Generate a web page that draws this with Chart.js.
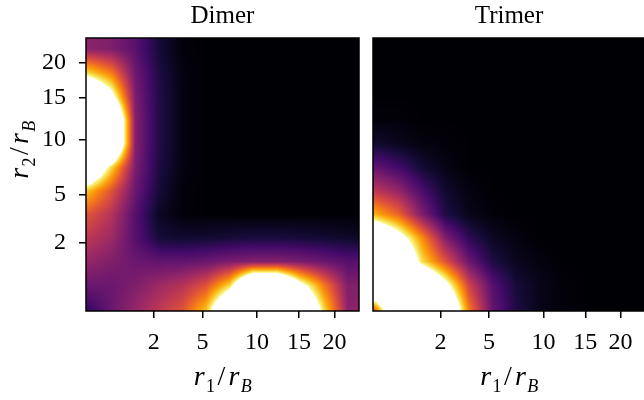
<!DOCTYPE html>
<html>
<head>
<meta charset="utf-8">
<script src="https://cdn.jsdelivr.net/npm/chart.js@4.4.1/dist/chart.umd.min.js"></script>
<style>
  html, body { margin: 0; padding: 0; background: #fff; width: 644px; height: 400px; overflow: hidden; }
  canvas { position: absolute; top: 0; }
  #dimer { left: 0; }
  #trimer { left: 366px; }
</style>
</head>
<body>
<canvas id="dimer" width="366" height="400"></canvas>
<canvas id="trimer" width="280" height="400"></canvas>
<script>
// axes are linear in sqrt(r/rB)
const rMin = 0.07;
const rMax = 23.9;
const tickValues = [2, 5, 10, 15, 20];
const tickLabels = ['2', '5', '10', '15', '20'];
const titles = ['Dimer', 'Trimer'];

// grid nodes (r/rB) for both r1 and r2
const nodes = [0.09, 0.49, 1.21, 2.25, 3.61, 5.29, 7.29, 9.61, 12.25, 15.21, 18.49, 22.09];

// colour values, rows from top (largest r2) to bottom (smallest r2), columns r1 left to right
const dimer = [
  [0.38, 0.35, 0.26, 0.10, 0.01, 0, 0, 0, 0, 0, 0, 0],
  [0.90, 0.70, 0.31, 0.12, 0.02, 0, 0, 0, 0, 0, 0, 0],
  [1.60, 1.10, 0.34, 0.13, 0.02, 0, 0, 0, 0, 0, 0, 0],
  [1.80, 1.70, 0.36, 0.13, 0.02, 0, 0, 0, 0, 0, 0, 0],
  [1.80, 1.70, 0.36, 0.13, 0.02, 0, 0, 0, 0, 0, 0, 0],
  [1.50, 0.90, 0.34, 0.12, 0.02, 0, 0, 0, 0, 0, 0, 0],
  [0.85, 0.60, 0.30, 0.10, 0.01, 0, 0, 0, 0, 0, 0, 0],
  [0.60, 0.48, 0.25, 0.06, 0.01, 0, 0, 0, 0, 0, 0, 0],
  [0.50, 0.42, 0.25, 0.10, 0.08, 0.09, 0.10, 0.11, 0.11, 0.10, 0.09, 0.07],
  [0.40, 0.35, 0.30, 0.28, 0.28, 0.30, 0.34, 0.36, 0.36, 0.34, 0.30, 0.25],
  [0.30, 0.30, 0.35, 0.42, 0.48, 0.60, 0.90, 1.70, 1.70, 1.10, 0.70, 0.35],
  [0.18, 0.30, 0.40, 0.50, 0.60, 0.85, 1.50, 1.80, 1.80, 1.55, 0.90, 0.38]
];

const trimer = [
  [0, 0, 0, 0, 0, 0, 0, 0, 0, 0, 0, 0],
  [0, 0, 0, 0, 0, 0, 0, 0, 0, 0, 0, 0],
  [0, 0, 0, 0, 0, 0, 0, 0, 0, 0, 0, 0],
  [0.01, 0.01, 0, 0, 0, 0, 0, 0, 0, 0, 0, 0],
  [0.08, 0.05, 0.02, 0.01, 0, 0, 0, 0, 0, 0, 0, 0],
  [0.28, 0.20, 0.09, 0.03, 0, 0, 0, 0, 0, 0, 0, 0],
  [0.50, 0.40, 0.22, 0.08, 0.02, 0, 0, 0, 0, 0, 0, 0],
  [0.82, 0.65, 0.35, 0.12, 0.04, 0.01, 0, 0, 0, 0, 0, 0],
  [1.50, 1.15, 0.75, 0.35, 0.15, 0.06, 0.02, 0, 0, 0, 0, 0],
  [1.60, 1.50, 0.92, 0.60, 0.30, 0.12, 0.05, 0.02, 0, 0, 0, 0],
  [1.60, 1.80, 1.60, 1.10, 0.55, 0.25, 0.10, 0.04, 0.01, 0, 0, 0],
  [0.70, 1.60, 1.50, 1.50, 0.70, 0.28, 0.12, 0.04, 0.01, 0, 0, 0]
];

// inferno, values above 1 shown white
const inferno = [
  [0, 0, 4], [22, 11, 57], [66, 10, 104], [106, 23, 110], [147, 38, 103],
  [188, 55, 84], [221, 81, 58], [243, 120, 25], [252, 165, 10], [246, 215, 70], [252, 255, 164]
];
function cmap(v) {
  if (v > 1) return [255, 255, 255];
  const t = Math.max(0, v) * 10;
  const i = Math.min(9, Math.floor(t)), f = t - i;
  const a = inferno[i], b = inferno[i + 1];
  return [a[0] + (b[0] - a[0]) * f, a[1] + (b[1] - a[1]) * f, a[2] + (b[2] - a[2]) * f];
}

const FONT = '"Liberation Serif", "Times New Roman", serif';

function drawMath(ctx, parts, x0, y0) {
  let w = 0;
  parts.forEach(p => {
    ctx.font = (p.it ? 'italic ' : '') + p.size + 'px ' + FONT;
    p.w = ctx.measureText(p.t).width + (p.gap || 0);
    w += p.w;
  });
  let x = x0 - w / 2;
  parts.forEach(p => {
    ctx.font = (p.it ? 'italic ' : '') + p.size + 'px ' + FONT;
    ctx.fillText(p.t, x + (p.gap || 0) / 2, y0 + (p.dy || 0));
    x += p.w;
  });
}

function ratioLabel(sub) {
  return [
    { t: 'r', it: true, size: 28, gap: 2 }, { t: sub, size: 18, dy: 7, gap: 1 },
    { t: '/', size: 28, gap: 4 }, { t: 'r', it: true, size: 28, gap: 2 },
    { t: 'B', it: true, size: 18, dy: 7, gap: 1 }
  ];
}

const heatPlugin = {
  id: 'heat',
  beforeDatasetsDraw(chart, args, opts) {
    const { ctx, chartArea: a, scales: { x, y } } = chart;
    const w = Math.round(a.right - a.left), h = Math.round(a.bottom - a.top);
    const off = document.createElement('canvas');
    off.width = w; off.height = h;
    const octx = off.getContext('2d');
    const img = octx.createImageData(w, h);
    const nu = nodes.map(Math.sqrt);
    const n = nu.length;
    const rows = opts.values.slice().reverse(); // rows[j] with j from bottom
    const locate = u => {
      if (u <= nu[0]) return [0, 0, 0];
      if (u >= nu[n - 1]) return [n - 1, n - 1, 0];
      let k = 0;
      while (nu[k + 1] < u) k++;
      return [k, k + 1, (u - nu[k]) / (nu[k + 1] - nu[k])];
    };
    const cols = [];
    for (let px = 0; px < w; px++) cols.push(locate(x.getValueForPixel(a.left + px + 0.5)));
    for (let py = 0; py < h; py++) {
      const [j0, j1, ty] = locate(y.getValueForPixel(a.top + py + 0.5));
      for (let px = 0; px < w; px++) {
        const [i0, i1, tx] = cols[px];
        const v = (rows[j0][i0] * (1 - tx) + rows[j0][i1] * tx) * (1 - ty) +
                  (rows[j1][i0] * (1 - tx) + rows[j1][i1] * tx) * ty;
        const c = cmap(v);
        const k = (py * w + px) * 4;
        img.data[k] = c[0]; img.data[k + 1] = c[1]; img.data[k + 2] = c[2]; img.data[k + 3] = 255;
      }
    }
    octx.putImageData(img, 0, 0);
    ctx.drawImage(off, a.left, a.top);
  },
  afterDraw(chart, args, opts) {
    const { ctx, chartArea: a } = chart;
    ctx.save();
    ctx.strokeStyle = '#000';
    ctx.lineWidth = 1.5;
    ctx.strokeRect(a.left, a.top, a.right - a.left, a.bottom - a.top);
    ctx.fillStyle = '#000';
    ctx.textBaseline = 'alphabetic';
    ctx.textAlign = 'left';
    const cx = (a.left + a.right) / 2;
    drawMath(ctx, [{ t: opts.title, size: 25 }], cx, 23);
    drawMath(ctx, ratioLabel('1'), cx, a.bottom + 74);
    if (opts.ylabel) {
      ctx.translate(28, 150);
      ctx.rotate(-Math.PI / 2);
      drawMath(ctx, ratioLabel('2'), 0, 0);
    }
    ctx.restore();
  }
};

function sqrtAxis(size, pad) {
  return {
    type: 'linear',
    min: Math.sqrt(rMin),
    max: Math.sqrt(rMax),
    afterBuildTicks: s => { s.ticks = tickValues.map(v => ({ value: Math.sqrt(v) })); },
    afterFit: s => { if (s.isHorizontal()) s.height = size; else s.width = size; },
    ticks: {
      callback: (v, i) => tickLabels[i],
      font: { family: FONT, size: 24 },
      color: '#000',
      padding: pad,
      autoSkip: false,
      maxRotation: 0
    },
    grid: { drawOnChartArea: false, color: '#000', lineWidth: 1.5, tickLength: 7 },
    border: { display: false }
  };
}

function makeChart(id, values, title, withY, padding) {
  const yAxis = sqrtAxis(withY ? 86 : 0, 13);
  if (!withY) yAxis.display = false;
  new Chart(document.getElementById(id), {
    type: 'scatter',
    data: { datasets: [{ data: [], pointRadius: 0 }] },
    options: {
      responsive: false,
      animation: false,
      layout: { padding: padding },
      plugins: {
        legend: { display: false },
        tooltip: { enabled: false },
        heat: { values: values, title: title, ylabel: withY }
      },
      scales: {
        x: sqrtAxis(89, 10),
        y: yAxis
      }
    },
    plugins: [heatPlugin]
  });
}

makeChart('dimer', dimer, titles[0], true, { left: 0, right: 7, top: 38, bottom: 0 });
makeChart('trimer', trimer, titles[1], false, { left: 7, right: 1, top: 38, bottom: 0 });
</script>
</body>
</html>
